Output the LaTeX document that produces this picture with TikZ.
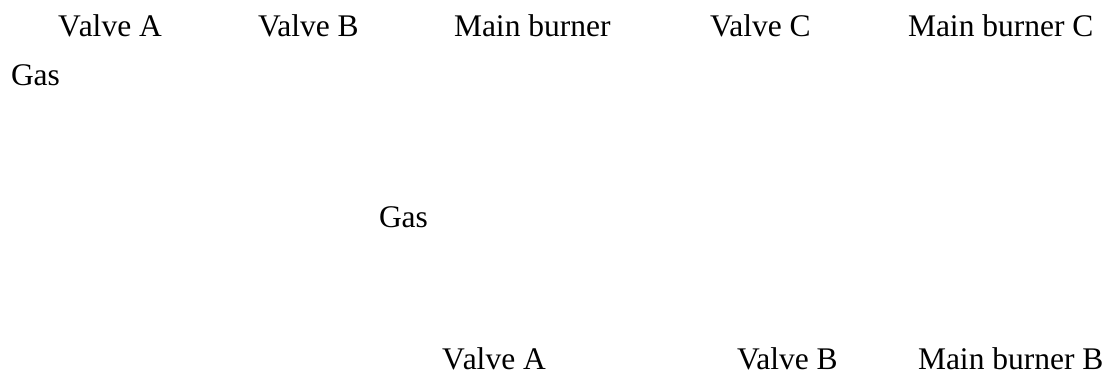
\documentclass[tikz,border=0pt]{standalone}
\usepackage{fontspec}
\setmainfont{Liberation Serif}
\begin{document}
\begin{tikzpicture}[x=1pt,y=-1pt,
  lbl/.style={anchor=base west,inner sep=0pt,outer sep=0pt,font=\fontsize{31.5}{38}\selectfont}]
\useasboundingbox (0,0) rectangle (1109,379);
\node[lbl] (va1) at (58,37) {V\kern-2pt alve A};
\node[lbl] (vb1) at (258,37) {Valve B};
\node[lbl] (mb) at (454,37) {Main burner};
\node[lbl] (vc) at (710,37) {Valve C};
\node[lbl] (mbc) at (908,37) {Main burner C};
\node[lbl] (gas1) at (11,86) {Gas};
\node[lbl] (gas2) at (379,228) {Gas};
\node[lbl] (va2) at (442,370) {V\kern-2pt alve A};
\node[lbl] (vb2) at (737,370) {Valve B};
\node[lbl] (mbb) at (918,370) {Main burner B};
\end{tikzpicture}
\end{document}
